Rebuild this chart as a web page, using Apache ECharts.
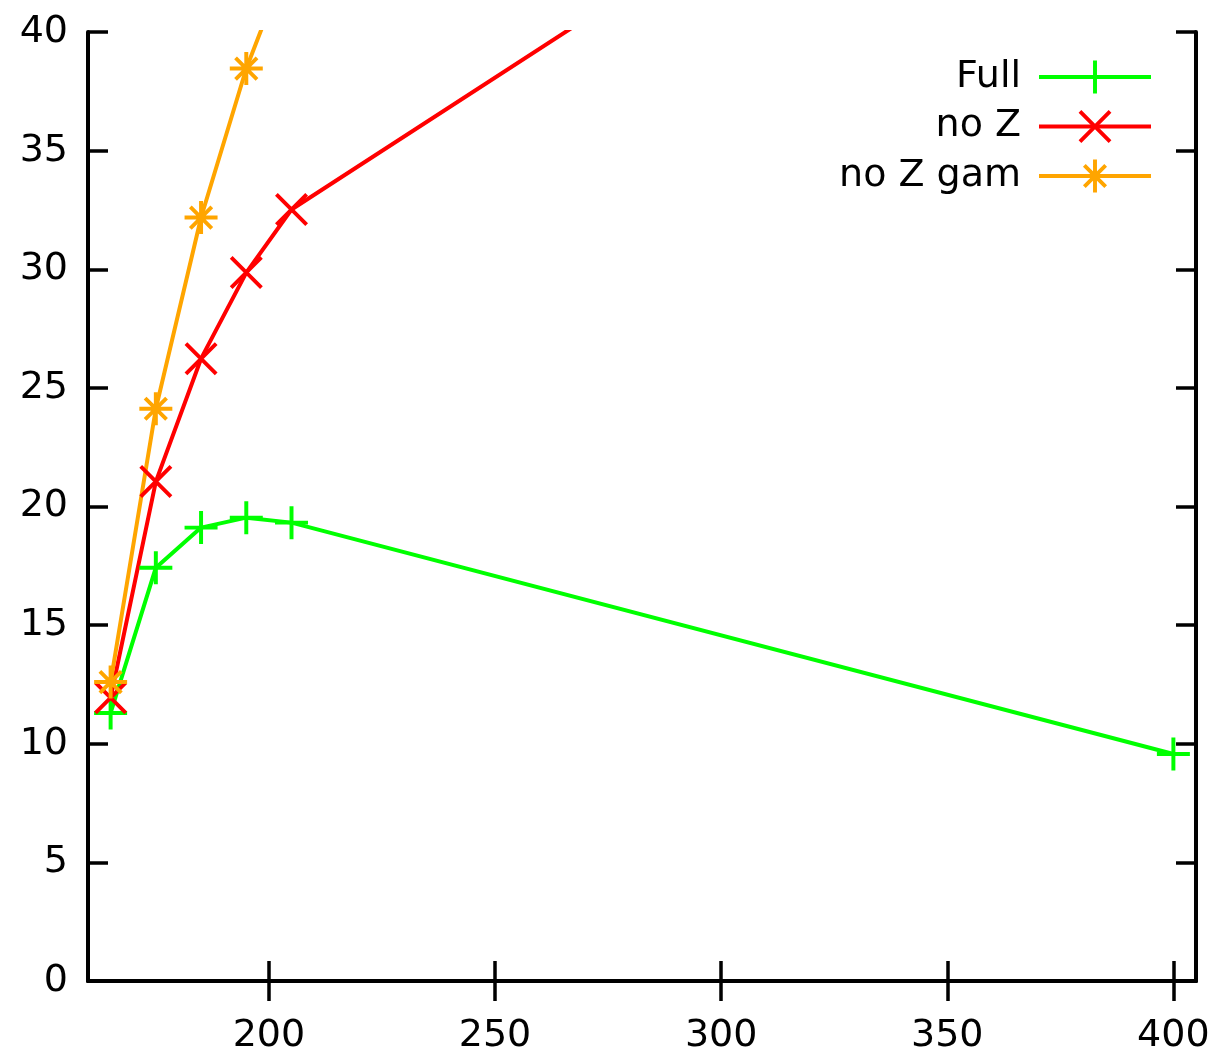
<!DOCTYPE html>
<html><head><meta charset="utf-8">
<script src="https://cdn.jsdelivr.net/npm/echarts@6/dist/echarts.min.js"></script>
<style>html,body{margin:0;padding:0;background:#fff}#c{width:1228px;height:1057px}</style>
</head><body><div id="c"></div>
<script>
const seriesNames = ['Full', 'no Z', 'no Z gam'];
const xFull = [165, 175, 185, 195, 205, 400];
const yFull = [11.30, 17.42, 19.11, 19.53, 19.32, 9.57];
const xNoZ = [165, 175, 185, 195, 205, 400];
const yNoZ = [11.94, 21.05, 26.23, 29.86, 32.52, 56.6];
const xNoZGam = [165, 175, 185, 195, 205];
const yNoZGam = [12.6, 24.12, 32.18, 38.46, 43.4];
const xTicks = [200, 250, 300, 350, 400];
const yTicks = [0, 5, 10, 15, 20, 25, 30, 35, 40];

const PLUS = 'path://M0,13.2L13.2,13.2L13.2,0L16.8,0L16.8,13.2L30,13.2L30,16.8L16.8,16.8L16.8,30L13.2,30L13.2,16.8L0,16.8Z';
const CROSS = 'path://M0,2.5L2.5,0L30,27.5L27.5,30ZM27.5,0L30,2.5L2.5,30L0,27.5Z';
const STAR = 'path://M0,13.2L13.2,13.2L13.2,0L16.8,0L16.8,13.2L30,13.2L30,16.8L16.8,16.8L16.8,30L13.2,30L13.2,16.8L0,16.8ZM4,6.5L6.5,4L26,23.5L23.5,26ZM23.5,4L26,6.5L6.5,26L4,23.5Z';

const font = 'DejaVu Sans';
const pairs = (xs, ys) => xs.map((x, i) => [x, ys[i]]);

function mkSeries(name, xs, ys, color, symbol) {
  return {
    name, type: 'line', data: pairs(xs, ys),
    symbol, symbolSize: 33, showAllSymbol: true, clip: true,
    lineStyle: { width: 4, color },
    itemStyle: { color },
    emphasis: { disabled: true },
    animation: false
  };
}

const axisCommon = {
  axisLine: { show: true, lineStyle: { color: '#000', width: 4 } },
  axisTick: { show: true, inside: true, length: 20, lineStyle: { color: '#000', width: 3.5 } },
  splitLine: { show: false }
};

const chart = echarts.init(document.getElementById('c'), null, { renderer: 'canvas' });
chart.setOption({
  backgroundColor: '#fff',
  animation: false,
  grid: { left: 88, right: 32, top: 32, bottom: 76, containLabel: false },
  legend: {
    orient: 'vertical', align: 'right', right: 70, top: 53,
    itemWidth: 112, itemHeight: 41, itemGap: 11.5,
    lineStyle: { width: 4 },
    textStyle: { fontFamily: font, fontSize: 38, color: '#000', lineHeight: 38, padding: [0, 13, 0, 0] },
    data: seriesNames
  },
  xAxis: [
    Object.assign({}, axisCommon, {
      type: 'value', min: 160, max: 405, position: 'bottom',
      axisTick: Object.assign({}, axisCommon.axisTick, { customValues: xTicks }),
      axisLabel: { customValues: xTicks, fontFamily: font, fontSize: 38, color: '#000', margin: 36 }
    }),
    Object.assign({}, axisCommon, {
      type: 'value', min: 160, max: 405, position: 'top',
      axisTick: Object.assign({}, axisCommon.axisTick, { customValues: xTicks }),
      axisLabel: { show: false }
    })
  ],
  yAxis: [
    Object.assign({}, axisCommon, {
      type: 'value', min: 0, max: 40, interval: 5, position: 'left',
      axisLabel: { fontFamily: font, fontSize: 38, color: '#000', margin: 20 }
    }),
    Object.assign({}, axisCommon, {
      type: 'value', min: 0, max: 40, interval: 5, position: 'right',
      axisLabel: { show: false }
    })
  ],
  series: [
    mkSeries(seriesNames[0], xFull, yFull, '#00ff00', PLUS),
    mkSeries(seriesNames[1], xNoZ, yNoZ, '#ff0000', CROSS),
    mkSeries(seriesNames[2], xNoZGam, yNoZGam, '#ffa500', STAR)
  ]
});
</script>
</body></html>
